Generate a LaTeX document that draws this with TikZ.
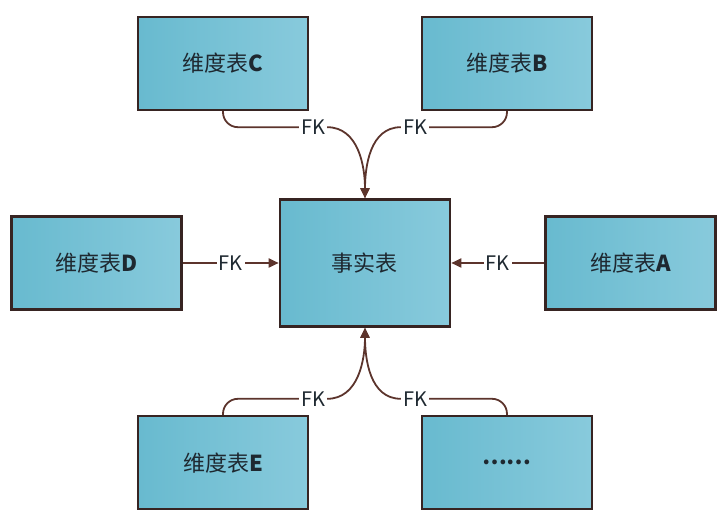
\documentclass[tikz,border=0pt]{standalone}
\usepackage{fontspec}
\setmainfont{Noto Sans CJK SC}
\usepackage{tikz}
\usetikzlibrary{positioning,arrows.meta}
\definecolor{tealdark}{RGB}{104,186,207}
\definecolor{teallight}{RGB}{136,202,220}
\definecolor{edgebrown}{RGB}{55,36,34}
\definecolor{linkbrown}{RGB}{92,52,44}
\definecolor{textdark}{RGB}{30,40,48}

\begin{document}
\begin{tikzpicture}[
        node distance=87pt,
        tbl/.style={rectangle,draw=edgebrown,line width=2.6pt,left color=tealdark,right color=teallight,minimum width=170pt,minimum height=93pt,text=textdark,font=\fontsize{22}{26}\selectfont},
        fk/.style={fill=white,inner sep=2pt,text=textdark,font=\fontsize{20}{24}\selectfont},
        link/.style={draw=linkbrown,line width=1.8pt},
        arrow/.style={link,-{Triangle[length=10pt,width=9pt]}}]
        \useasboundingbox (-365pt,-248pt) rectangle (353pt,263pt);
        \node[tbl,minimum height=127pt] (fact) at (0,0) {事实表};
        \node[tbl,above=of fact,xshift=-142pt] (c) {维度表\textbf{C}};
        \node[tbl,above=of fact,xshift=142pt] (b) {维度表\textbf{B}};
        \node[tbl,left=96pt of fact] (d) {维度表\textbf{D}};
        \node[tbl,right=93pt of fact] (a) {维度表\textbf{A}};
        \node[tbl,below=of fact,xshift=-142pt] (e) {维度表\textbf{E}};
        \node[tbl,below=of fact,xshift=142pt] (more) {\textbf{……}};
        \node[fk] (fkc) at ([xshift=-52pt,yshift=71pt]fact.north) {FK};
        \node[fk] (fkb) at ([xshift=50pt,yshift=71pt]fact.north) {FK};
        \node[fk] (fke) at ([xshift=-52pt,yshift=-71pt]fact.south) {FK};
        \node[fk] (fkm) at ([xshift=50pt,yshift=-71pt]fact.south) {FK};
        \draw[link,rounded corners=15pt] (c.south) |- (fkc.west);
        \draw[arrow] (fkc.east) to[out=0,in=90] (fact.north);
        \draw[link,rounded corners=15pt] (b.south) |- (fkb.east);
        \draw[arrow] (fkb.west) to[out=180,in=90] (fact.north);
        \draw[arrow] (d) -- node[fk] (fkd) {FK} (fact);
        \draw[arrow] (a) -- node[fk] (fka) {FK} (fact);
        \draw[link,rounded corners=15pt] (e.north) |- (fke.west);
        \draw[arrow] (fke.east) to[out=0,in=-90] (fact.south);
        \draw[link,rounded corners=15pt] (more.north) |- (fkm.east);
        \draw[arrow] (fkm.west) to[out=180,in=-90] (fact.south);
    \end{tikzpicture}
\end{document}
